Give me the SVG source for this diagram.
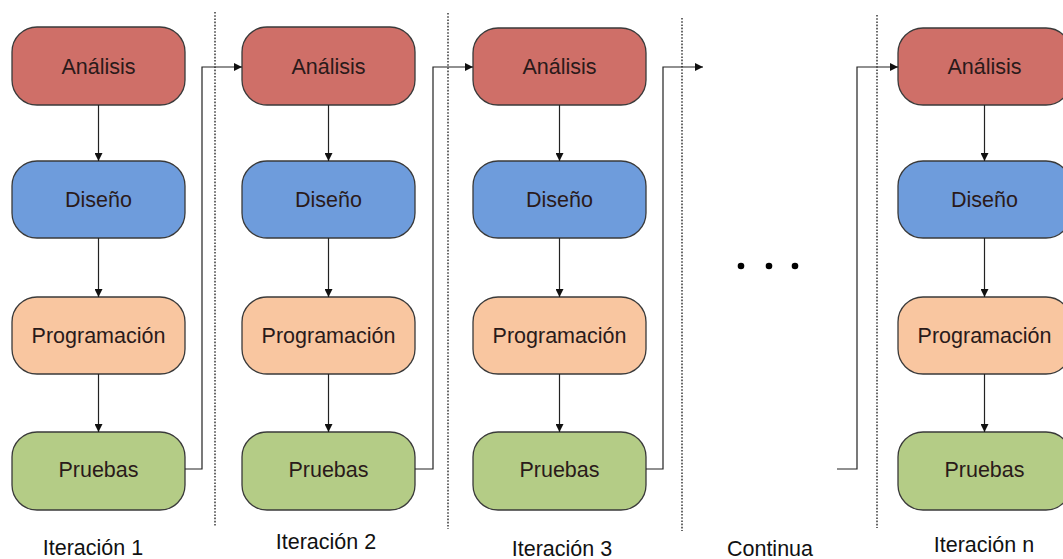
<svg xmlns="http://www.w3.org/2000/svg" width="1063" height="559" viewBox="0 0 1063 559">
  <defs>
    <marker id="arrow" viewBox="0 0 10 10" refX="10" refY="5" markerWidth="9" markerHeight="8" markerUnits="userSpaceOnUse" orient="auto">
      <path d="M0,0 L10,5 L0,10 Z" fill="#111"/>
    </marker>
  </defs>
  <style>
    .box { stroke: #3a3a3a; stroke-width: 1.3; }
    .analisis { fill: #cf6f68; }
    .diseno { fill: #6e9cdc; }
    .prog { fill: #f9c6a0; }
    .pruebas { fill: #b4cc86; }
    .lbl { font-family: "Liberation Sans", Arial, sans-serif; font-size: 21.5px; fill: #2a1a1a; text-anchor: middle; }
    .cap { font-family: "Liberation Sans", Arial, sans-serif; font-size: 21.5px; fill: #111; text-anchor: middle; }
    .conn { fill: none; stroke: #222; stroke-width: 1.2; }
    .sep { stroke: #444; stroke-width: 1.6; stroke-dasharray: 1.6 1.6; }
  </style>

  <rect width="1063" height="559" fill="#ffffff"/>

  <!-- iteration separators -->
  <g id="separators">
    <line class="sep" x1="215" y1="12" x2="215" y2="527"/>
    <line class="sep" x1="448" y1="13" x2="448" y2="529"/>
    <line class="sep" x1="682" y1="18" x2="682" y2="531"/>
    <line class="sep" x1="877" y1="15" x2="877" y2="528"/>
  </g>

  <!-- column 1 -->
  <g id="c1-analisis"><rect class="box analisis" x="12" y="27" width="173" height="78" rx="25"/><text class="lbl" x="98.5" y="73.5">Análisis</text></g>
  <g id="c1-diseno"><rect class="box diseno" x="12" y="161" width="173" height="77" rx="25"/><text class="lbl" x="98.5" y="206.5">Diseño</text></g>
  <g id="c1-prog"><rect class="box prog" x="12" y="297" width="173" height="77" rx="25"/><text class="lbl" x="98.5" y="342.5">Programación</text></g>
  <g id="c1-pruebas"><rect class="box pruebas" x="12" y="432" width="173" height="78" rx="25"/><text class="lbl" x="98.5" y="477">Pruebas</text></g>

  <!-- column 2 -->
  <g id="c2-analisis"><rect class="box analisis" x="242" y="27" width="173" height="78" rx="25"/><text class="lbl" x="328.5" y="73.5">Análisis</text></g>
  <g id="c2-diseno"><rect class="box diseno" x="242" y="161" width="173" height="77" rx="25"/><text class="lbl" x="328.5" y="206.5">Diseño</text></g>
  <g id="c2-prog"><rect class="box prog" x="242" y="297" width="173" height="77" rx="25"/><text class="lbl" x="328.5" y="342.5">Programación</text></g>
  <g id="c2-pruebas"><rect class="box pruebas" x="242" y="432" width="173" height="78" rx="25"/><text class="lbl" x="328.5" y="477">Pruebas</text></g>

  <!-- column 3 -->
  <g id="c3-analisis"><rect class="box analisis" x="473" y="28" width="173" height="77" rx="25"/><text class="lbl" x="559.5" y="73.5">Análisis</text></g>
  <g id="c3-diseno"><rect class="box diseno" x="473" y="161" width="173" height="77" rx="25"/><text class="lbl" x="559.5" y="206.5">Diseño</text></g>
  <g id="c3-prog"><rect class="box prog" x="473" y="297" width="173" height="77" rx="25"/><text class="lbl" x="559.5" y="342.5">Programación</text></g>
  <g id="c3-pruebas"><rect class="box pruebas" x="473" y="432" width="173" height="78" rx="25"/><text class="lbl" x="559.5" y="477">Pruebas</text></g>

  <!-- column n -->
  <g id="cn-analisis"><rect class="box analisis" x="898" y="28" width="173" height="77" rx="25"/><text class="lbl" x="984.5" y="73.5">Análisis</text></g>
  <g id="cn-diseno"><rect class="box diseno" x="898" y="161" width="173" height="77" rx="25"/><text class="lbl" x="984.5" y="206.5">Diseño</text></g>
  <g id="cn-prog"><rect class="box prog" x="898" y="297" width="173" height="77" rx="25"/><text class="lbl" x="984.5" y="342.5">Programación</text></g>
  <g id="cn-pruebas"><rect class="box pruebas" x="898" y="432" width="173" height="78" rx="25"/><text class="lbl" x="984.5" y="477">Pruebas</text></g>

  <!-- ellipsis between iterations -->
  <g id="ellipsis" fill="#000">
    <circle cx="741" cy="266" r="3.3"/>
    <circle cx="769" cy="266" r="3.3"/>
    <circle cx="795" cy="266" r="3.3"/>
  </g>

  <!-- connectors -->
  <g id="connectors">
    <!-- within each column -->
    <line class="conn" x1="98.5" y1="105" x2="98.5" y2="161" marker-end="url(#arrow)"/>
    <line class="conn" x1="98.5" y1="238" x2="98.5" y2="297" marker-end="url(#arrow)"/>
    <line class="conn" x1="98.5" y1="374" x2="98.5" y2="432" marker-end="url(#arrow)"/>

    <line class="conn" x1="328.5" y1="105" x2="328.5" y2="161" marker-end="url(#arrow)"/>
    <line class="conn" x1="328.5" y1="238" x2="328.5" y2="297" marker-end="url(#arrow)"/>
    <line class="conn" x1="328.5" y1="374" x2="328.5" y2="432" marker-end="url(#arrow)"/>

    <line class="conn" x1="559.5" y1="105" x2="559.5" y2="161" marker-end="url(#arrow)"/>
    <line class="conn" x1="559.5" y1="238" x2="559.5" y2="297" marker-end="url(#arrow)"/>
    <line class="conn" x1="559.5" y1="374" x2="559.5" y2="432" marker-end="url(#arrow)"/>

    <line class="conn" x1="984.5" y1="105" x2="984.5" y2="161" marker-end="url(#arrow)"/>
    <line class="conn" x1="984.5" y1="238" x2="984.5" y2="297" marker-end="url(#arrow)"/>
    <line class="conn" x1="984.5" y1="374" x2="984.5" y2="432" marker-end="url(#arrow)"/>

    <!-- from one iteration to the next -->
    <polyline class="conn" points="185,469 202,469 202,67 242,67" marker-end="url(#arrow)"/>
    <polyline class="conn" points="415,469 433,469 433,67 473,67" marker-end="url(#arrow)"/>
    <polyline class="conn" points="646,469 663,469 663,67 703,67" marker-end="url(#arrow)"/>
    <polyline class="conn" points="837,469 857,469 857,67 898,67" marker-end="url(#arrow)"/>
  </g>

  <!-- iteration captions -->
  <g id="captions">
    <text class="cap" x="93" y="555">Iteración 1</text>
    <text class="cap" x="326" y="549">Iteración 2</text>
    <text class="cap" x="562" y="556">Iteración 3</text>
    <text class="cap" x="770" y="556">Continua</text>
    <text class="cap" x="984" y="552">Iteración n</text>
  </g>
</svg>
